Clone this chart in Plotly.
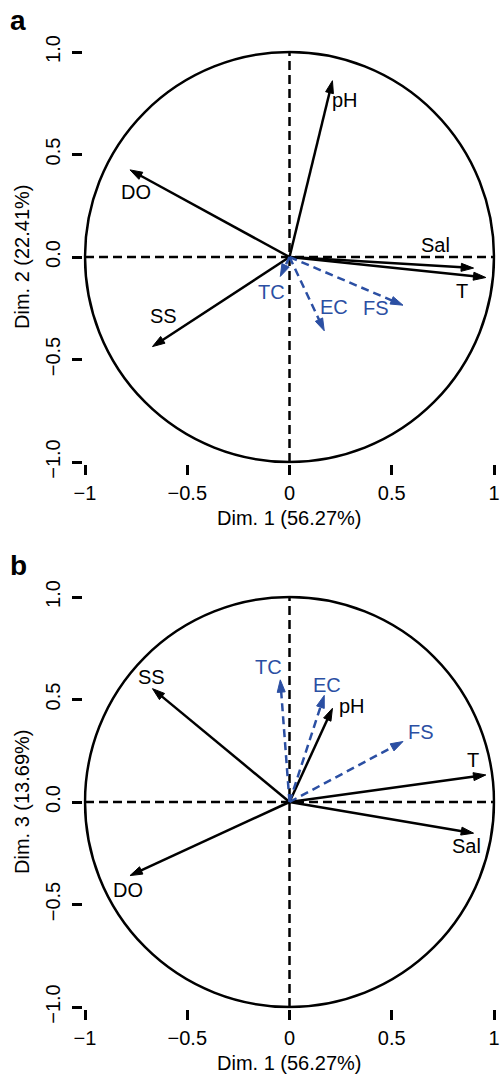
import plotly.graph_objects as go

# ---- data (variable coordinates on PCA dimensions) ----
variables = ["pH", "DO", "Sal", "T", "SS", "TC", "EC", "FS"]
dim1 = [0.21, -0.78, 0.90, 0.96, -0.67, -0.045, 0.17, 0.555]
dim2 = [0.86, 0.425, -0.054, -0.10, -0.437, -0.095, -0.36, -0.235]
dim3 = [0.457, -0.359, -0.152, 0.132, 0.553, 0.596, 0.52, 0.295]
supplementary = [False, False, False, False, False, True, True, True]

x_tickvals = [-1, -0.5, 0, 0.5, 1]
x_ticktext = ["\u22121", "\u22120.5", "0", "0.5", "1"]
y_tickvals = [-1, -0.5, 0, 0.5, 1]
y_ticktext = ["\u22121.0", "\u22120.5", "0.0", "0.5", "1.0"]

x_title = "Dim. 1 (56.27%)"
y_title_a = "Dim. 2 (22.41%)"
y_title_b = "Dim. 3 (13.69%)"

# label pixel offsets (style) relative to arrow tips
off_a = {"pH": (13, -19), "DO": (6, -22), "Sal": (-38, 23), "T": (-24, -14),
         "SS": (11, 31), "TC": (-9, -16), "EC": (10, 24), "FS": (-27, -3)}
off_b = {"pH": (20, 2), "DO": (-2, -14), "Sal": (-7, -13), "T": (-13, 15),
         "SS": (-1, 12), "TC": (-12, 13), "EC": (3, 10), "FS": (18, 10)}

BLUE = "#2B4FA3"
FONT = "Liberation Sans, Arial, sans-serif"
W, H = 501, 1075
LW = 2.5

# ---- layout geometry (pixels) ----
R = 1.008
x_center, x_scale = 289.5, 204.5
ya_center, yb_center, y_scale = 257.0, 802.0, 205.0


def xdom():
    return [(x_center - R * x_scale) / W, (x_center + R * x_scale) / W]


def ydom(c):
    top = c - R * y_scale
    bot = c + R * y_scale
    return [(H - bot) / H, (H - top) / H]


fig = go.Figure()
annotations = []
shapes = []

panels = [("x", "y", dim2, off_a, ya_center, y_title_a, "a"),
          ("x2", "y2", dim3, off_b, yb_center, y_title_b, "b")]

for xr, yr, dimy, offs, yc, ytitle, letter in panels:
    shapes.append(dict(type="circle", xref=xr, yref=yr, x0=-1, y0=-1, x1=1, y1=1,
                       line=dict(color="black", width=LW), layer="below"))
    shapes.append(dict(type="line", xref=xr, yref=yr, x0=-1, y0=0, x1=1, y1=0,
                       line=dict(color="black", width=LW, dash="9px,5px"), layer="below"))
    shapes.append(dict(type="line", xref=xr, yref=yr, x0=0, y0=-1, x1=0, y1=1,
                       line=dict(color="black", width=LW, dash="9px,5px"), layer="below"))
    for name, xv, yv, sup in zip(variables, dim1, dimy, supplementary):
        col = BLUE if sup else "black"
        fig.add_trace(go.Scatter(
            x=[0, xv], y=[0, yv], xaxis=xr, yaxis=yr,
            mode="lines+markers",
            line=dict(color=col, width=LW, dash="8px,5px" if sup else "solid"),
            marker=dict(symbol=["circle", "arrow"], size=[0, 13], angleref="previous",
                        color=col, opacity=1, line=dict(width=1, color=col)),
            showlegend=False, hoverinfo="skip"))
        dx, dy = offs[name]
        annotations.append(dict(x=xv, y=yv, xref=xr, yref=yr, text=name, showarrow=False,
                                xshift=dx, yshift=dy,
                                font=dict(size=20, color=col, family=FONT)))
    annotations.append(dict(x=x_center / W, y=(H - (yc + 261)) / H, xref="paper", yref="paper",
                            text=x_title, showarrow=False, xanchor="center", yanchor="middle",
                            font=dict(size=20, color="black", family=FONT)))
    annotations.append(dict(x=22 / W, y=(H - yc) / H, xref="paper", yref="paper",
                            text=ytitle, showarrow=False, textangle=-90,
                            xanchor="center", yanchor="middle",
                            font=dict(size=20, color="black", family=FONT)))
    annotations.append(dict(x=18 / W, y=(H - (yc - 237)) / H, xref="paper", yref="paper",
                            text="<b>" + letter + "</b>", showarrow=False,
                            xanchor="center", yanchor="middle",
                            font=dict(size=28, color="black", family=FONT)))

axis_common = dict(range=[-R, R], showgrid=False, zeroline=False, showline=False,
                   automargin=False,
                   ticks="outside", ticklen=10, tickwidth=2.5, tickcolor="black",
                   tickfont=dict(size=20, color="black", family=FONT), fixedrange=True)

fig.update_layout(
    width=W, height=H, margin=dict(l=0, r=0, t=0, b=0, pad=0, autoexpand=False),
    paper_bgcolor="white", plot_bgcolor="white",
    xaxis=dict(domain=xdom(), anchor="y", tickvals=x_tickvals, ticktext=x_ticktext,
               ticklabelstandoff=1, **axis_common),
    yaxis=dict(domain=ydom(ya_center), anchor="x", tickvals=y_tickvals, ticktext=y_ticktext,
               tickangle=-90, ticklabelstandoff=4, **axis_common),
    xaxis2=dict(domain=xdom(), anchor="y2", tickvals=x_tickvals, ticktext=x_ticktext,
                ticklabelstandoff=1, **axis_common),
    yaxis2=dict(domain=ydom(yb_center), anchor="x2", tickvals=y_tickvals, ticktext=y_ticktext,
                tickangle=-90, ticklabelstandoff=4, **axis_common),
    annotations=annotations, shapes=shapes,
)

fig.write_html("out.html")
